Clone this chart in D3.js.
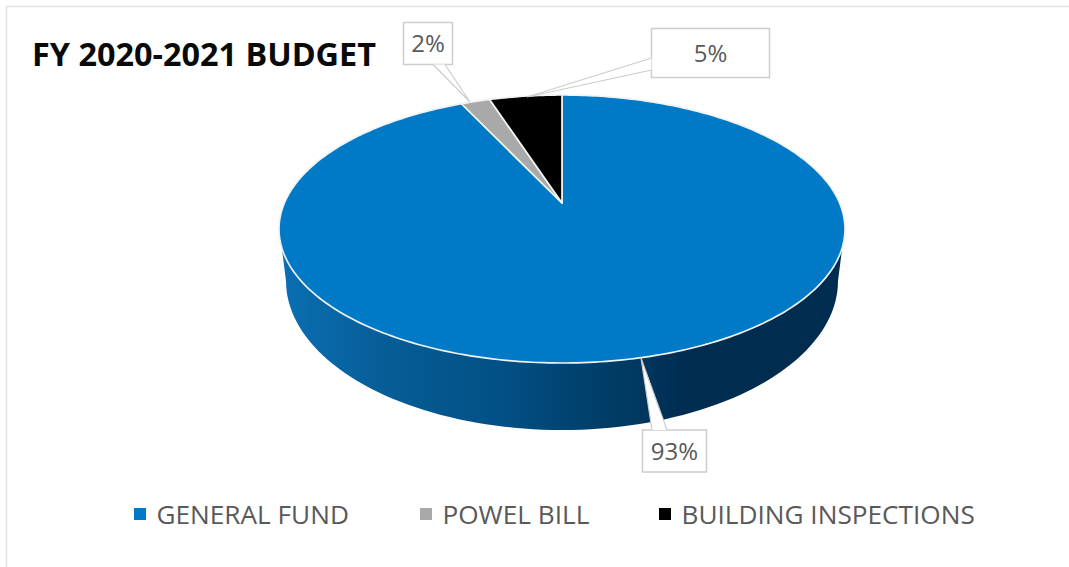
<!DOCTYPE html>
<html>
<head>
<meta charset="utf-8">
<style>
  html, body { margin: 0; padding: 0; background: #fff; }
  svg { display: block; }
  text { font-family: "Open Sans", sans-serif; }
</style>
<script src="https://cdnjs.cloudflare.com/ajax/libs/d3/7.8.5/d3.min.js"></script>
</head>
<body>
<svg id="chart" width="1069" height="567"></svg>
<script>
// Budget shares, in percent
const categories = ["GENERAL FUND", "POWEL BILL", "BUILDING INSPECTIONS"];
const shares = [93, 2, 5];
const sliceColors = ["#0079c7", "#a9a9a9", "#000000"];
const chartTitle = "FY 2020-2021 BUDGET";

const svg = d3.select("#chart");
const W = 1069, H = 567;

// Thin frame around the chart area (top and left stay inside the page)
svg.append("path")
  .attr("d", `M6.5,${H} V6.5 H${W}`)
  .attr("fill", "none")
  .attr("stroke", "#e3e3e3")
  .attr("stroke-width", 1.5);

// Disc in perspective: a unit circle mapped so its centre falls above the ellipse centre
const disc = { cx: 562, apexY: 203, topY: 95, bottomY: 363, halfWidth: 283 };
const tilt = (2 * disc.apexY - disc.topY - disc.bottomY) / (disc.bottomY - disc.topY);
const slope = disc.bottomY * (1 + tilt) - disc.apexY;
const spread = disc.halfWidth * Math.sqrt(1 - tilt * tilt);
function project(angle, r = 1) {
  const u = r * Math.sin(angle), v = -r * Math.cos(angle);
  const d = 1 + tilt * v;
  return [disc.cx + spread * u / d, (slope * v + disc.apexY) / d];
}

const pie = d3.pie().sort(null).value(d => d);
const arcs = pie(shares);
const line = d3.line();

// Side wall: front half of the top rim, then back along the lower rim
const lower = { cx: 562, cy: 281, rx: 276, ry: 149 };
const rimTop = { cy: (disc.topY + disc.bottomY) / 2, rx: disc.halfWidth, ry: (disc.bottomY - disc.topY) / 2 };
const wallSteps = d3.range(0, 181, 2).map(d => d * Math.PI / 180);
const upperEdge = wallSteps
  .filter(t => Math.sin(t) > 0.12)
  .map(t => [disc.cx + rimTop.rx * Math.cos(t), rimTop.cy + rimTop.ry * Math.sin(t)]);
const lowerEdge = wallSteps.slice().reverse()
  .map(t => [lower.cx + lower.rx * Math.cos(t), lower.cy + lower.ry * Math.sin(t)]);

const defs = svg.append("defs");
const shade = defs.append("linearGradient")
  .attr("id", "wallShade")
  .attr("gradientUnits", "userSpaceOnUse")
  .attr("x1", 280).attr("x2", 845).attr("y1", 0).attr("y2", 0);
[[0, "#0a6fb3"], [0.2, "#065c95"], [0.4, "#024f84"], [0.5, "#004573"], [0.63, "#003860"], [0.72, "#002c50"], [1, "#002c50"]]
  .forEach(([o, c]) => shade.append("stop").attr("offset", o).attr("stop-color", c));

svg.append("path")
  .attr("d", line(upperEdge.concat(lowerEdge)) + "Z")
  .attr("fill", "url(#wallShade)");

// Top face slices, sampled along the projected circle
svg.append("g").selectAll("path")
  .data(arcs)
  .join("path")
  .attr("d", d => {
    const n = Math.max(4, Math.ceil((d.endAngle - d.startAngle) * 60));
    const rim = d3.range(n + 1).map(i => project(d.startAngle + (d.endAngle - d.startAngle) * i / n));
    return line([project(0, 0), ...rim]) + "Z";
  })
  .attr("fill", (d, i) => sliceColors[i])
  .attr("stroke", "#f0f2f4")
  .attr("stroke-width", 1.7)
  .attr("stroke-linejoin", "round");

// Value callouts: box, then a wedge that opens into the box edge
const callouts = [
  { i: 0, box: [642.5, 430, 64, 42], tip: [641, 358], base: [[652, 430], [667, 430]] },
  { i: 1, box: [403.5, 22.5, 49, 42], tip: [470, 102], base: [[433, 64.5], [445, 64.5]] },
  { i: 2, box: [651.5, 28.5, 118, 49], tip: [527, 97], base: [[651.5, 58], [651.5, 70]] }
];
const percent = d => `${d}%`;
const callout = svg.append("g").selectAll("g").data(callouts).join("g");
callout.append("rect")
  .attr("x", d => d.box[0]).attr("y", d => d.box[1])
  .attr("width", d => d.box[2]).attr("height", d => d.box[3])
  .attr("fill", "#fff").attr("stroke", "#cdcdcd").attr("stroke-width", 1.5);
callout.append("path")
  .attr("d", d => line([d.base[0], d.tip, d.base[1]]) + "Z")
  .attr("fill", "#fff");
callout.append("path")
  .attr("d", d => line([d.base[0], d.tip, d.base[1]]))
  .attr("fill", "none").attr("stroke", "#cdcdcd").attr("stroke-width", 1.2);
callout.append("text")
  .attr("x", d => d.box[0] + d.box[2] / 2)
  .attr("y", d => d.box[1] + d.box[3] / 2 + 8.5)
  .attr("text-anchor", "middle")
  .attr("font-size", 24)
  .attr("fill", "#595959")
  .text(d => percent(shares[d.i]));

// Title
svg.append("text")
  .attr("x", 32).attr("y", 66)
  .attr("font-size", 32.4)
  .attr("font-weight", 700)
  .attr("fill", "#0a0a0a")
  .text(chartTitle);

// Legend
const legendX = [134, 420, 659];
const legend = svg.append("g").selectAll("g").data(categories).join("g")
  .attr("transform", (d, i) => `translate(${legendX[i]},508)`);
legend.append("rect")
  .attr("width", 12).attr("height", 12)
  .attr("fill", (d, i) => sliceColors[i]);
legend.append("text")
  .attr("x", 22.5).attr("y", 16)
  .attr("font-size", 26.2)
  .attr("fill", "#595959")
  .text(d => d);
</script>
</body>
</html>
